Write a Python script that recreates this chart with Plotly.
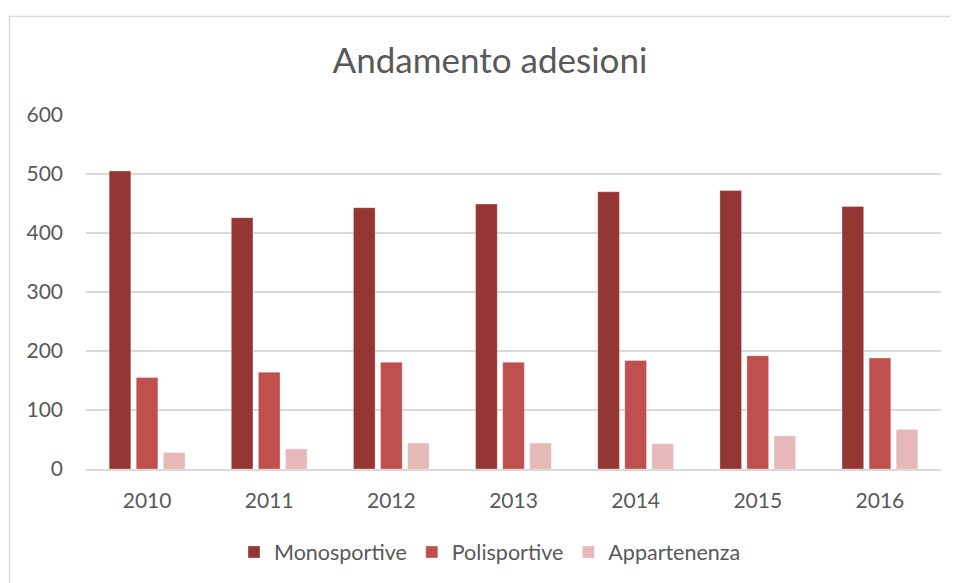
import plotly.graph_objects as go

years = ["2010", "2011", "2012", "2013", "2014", "2015", "2016"]
monosportive = [505, 426, 443, 449, 470, 472, 445]
polisportive = [155, 164, 181, 181, 184, 192, 188]
appartenenza = [28, 34, 44, 44, 43, 56, 67]
y_ticks = [0, 100, 200, 300, 400, 500, 600]

series = [
    ("Monosportive", monosportive, "#943634"),
    ("Polisportive", polisportive, "#C0504D"),
    ("Appartenenza", appartenenza, "#E6B9B8"),
]

FONT = "Lato"
TXT = "#595959"
OFF = 8  # page body margin offset

fig = go.Figure()
for name, vals, col in series:
    fig.add_trace(go.Bar(
        x=years, y=vals, name=name,
        marker=dict(color=col, line=dict(color="rgba(255,255,255,0.6)", width=0.5)),
    ))

W, H = 958, 583
L = 86 - OFF
T = 115 - OFF
R = W - (941 - OFF)
B = H - (469 - OFF)
pw, ph = W - L - R, H - T - B

fig.update_layout(
    width=W, height=H,
    margin=dict(l=L, r=R, t=T, b=B, pad=0),
    paper_bgcolor="white", plot_bgcolor="white",
    barmode="group", bargap=0.335, bargroupgap=0.2,
    font=dict(family=FONT, color=TXT, size=21),
    title=dict(text="Andamento adesioni", x=(490 - OFF) / W, xref="container", xanchor="center",
               y=1 - (61 - OFF) / H, yref="container", yanchor="middle",
               font=dict(family=FONT, size=35, color=TXT)),
    showlegend=True,
    legend=dict(orientation="h", xref="container", x=(490 - OFF) / W, xanchor="center",
                yref="container", y=1 - (552 - OFF) / H, yanchor="middle",
                font=dict(family=FONT, size=21.5, color=TXT), traceorder="normal",
                itemwidth=30),
    xaxis=dict(showgrid=False, showline=True, linecolor="#D9D9D9", linewidth=1.5,
               ticks="", tickfont=dict(size=21, color=TXT), ticklabelstandoff=12),
    yaxis=dict(range=[0, 600], tickvals=y_ticks, showgrid=True, gridcolor="#D9D9D9",
               gridwidth=1.5, zeroline=False, showline=False, ticks="",
               tickfont=dict(size=21, color=TXT), ticklabelstandoff=22),
)

# chart border (only top and left visible; crop)
bx0, by0 = 9.5 - OFF, 16.5 - OFF
x0 = (bx0 - L) / pw
x1 = (W + 20 - L) / pw
y1 = (H - B - by0) / ph
y0 = (H - B - (H + 20)) / ph
fig.add_shape(type="rect", xref="paper", yref="paper", x0=x0, x1=x1, y0=y0, y1=y1,
              line=dict(color="#D9D9D9", width=1.5), fillcolor="rgba(0,0,0,0)", layer="below")

fig.write_html("out.html")
